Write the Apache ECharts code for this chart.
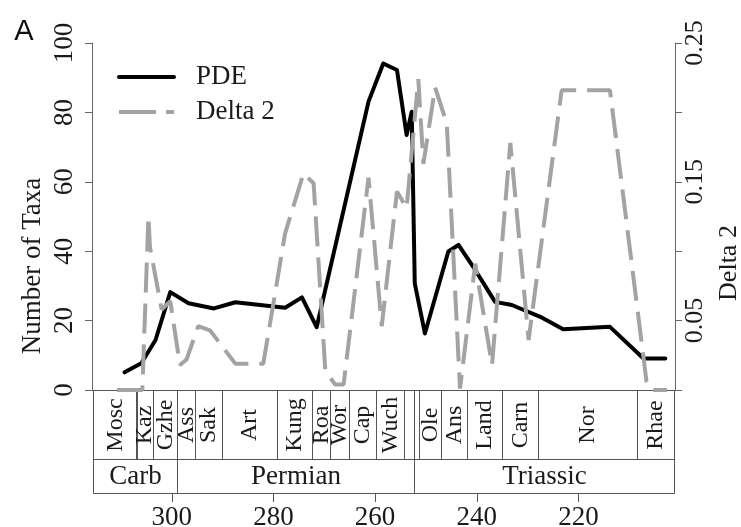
<!DOCTYPE html>
<html>
<head>
<meta charset="utf-8">
<script src="https://cdn.jsdelivr.net/npm/echarts@6.0.0/dist/echarts.min.js"></script>
<style>
  html, body { margin: 0; padding: 0; background: #fff; }
  #chart { width: 741px; height: 527px; }
</style>
</head>
<body>
<div id="chart"></div>
<script>
// PDE curve: age (Ma) and number of taxa
const pdeAge = [309.3, 306.0, 303.2, 300.3, 296.7, 291.7, 287.5, 277.7, 274.4, 271.5,
    261.3, 258.4, 255.7, 253.8, 252.8, 252.2, 250.2, 245.6, 243.6, 240.7,
    236.4, 233.1, 227.5, 223.0, 213.8, 207.2, 202.9];
const pdeTaxa = [5.1, 7.7, 14.4, 28.2, 25.0, 23.5, 25.3, 23.7, 26.7, 18.1,
    83.1, 94.1, 92.2, 73.5, 80.2, 30.7, 16.3, 39.9, 41.8, 35.5,
    25.4, 24.5, 21.1, 17.5, 18.2, 9.1, 9.1];

// Delta 2 curve (right axis)
const deltaAge = [310.8, 306.2, 305.8, 304.6, 304.3, 302.0, 300.3, 298.4, 297.1, 294.8,
    292.5, 287.5, 282.0, 277.7, 274.1, 272.1, 269.8, 267.9, 266.2, 261.3,
    258.7, 255.7, 253.8, 251.5, 250.5, 248.2, 245.9, 243.3, 240.3, 237.0,
    233.4, 229.8, 223.3, 213.8, 206.6, 205.6, 202.6];
const deltaVal = [0, 0, 0, 0.125, 0.103, 0.058, 0.064, 0.018, 0.022, 0.046,
    0.043, 0.019, 0.019, 0.113, 0.156, 0.149, 0.014, 0.004, 0.004, 0.153,
    0.046, 0.143, 0.131, 0.224, 0.163, 0.218, 0.192, 0.001, 0.091, 0.018,
    0.178, 0.036, 0.216, 0.216, 0.006, 0, 0];

// geological time scale boxes
const stageNames = ['Mosc', 'Kaz', 'Gzhe', 'Ass', 'Sak', 'Art', 'Kung', 'Roa', 'Wor', 'Cap',
    'Wuch', '', '', 'Ole', 'Ans', 'Land', 'Carn', 'Nor', 'Rhae'];
const stageBounds = [315.6, 307.0, 303.7, 299.0, 295.4, 290.1, 279.3, 272.4, 268.8, 265.1,
    259.8, 254.3, 252.3, 251.3, 247.0, 241.9, 235.0, 227.9, 208.4, 201.1];
const periodNames = ['Carb', 'Permian', 'Triassic'];
const periodBounds = [315.6, 299.0, 252.3, 201.1];

const xTicks = [300, 280, 260, 240, 220];

const serif = 'Liberation Serif';

function zip(a, b) {
    return a.map((v, i) => [v, b[i]]);
}

function boxes(bounds, y0, y1) {
    let out = [];
    for (let i = 0; i < bounds.length - 1; i++) {
        out.push([bounds[i], bounds[i + 1], y0, y1]);
    }
    return out;
}

function cellRenderer(names, fontSize, rotate) {
    return function (params, api) {
        let a = api.coord([api.value(0), api.value(2)]),
            b = api.coord([api.value(1), api.value(3)]);
        let x = Math.round(Math.min(a[0], b[0])) + 0.5,
            y = Math.round(Math.min(a[1], b[1])) + 0.5,
            w = Math.round(Math.abs(b[0] - a[0])),
            h = Math.round(Math.abs(b[1] - a[1]));
        return {
            type: 'group',
            children: [{
                type: 'rect',
                shape: { x: x, y: y, width: w, height: h },
                style: { fill: 'none', stroke: '#555', lineWidth: 1 }
            }, {
                type: 'text',
                x: x + w / 2,
                y: y + h / 2,
                rotation: rotate ? Math.PI / 2 : 0,
                style: {
                    text: names[params.dataIndex],
                    fontFamily: serif,
                    fontSize: fontSize,
                    fill: '#1a1a1a',
                    align: 'center',
                    verticalAlign: 'middle'
                }
            }]
        };
    };
}

let chart = echarts.init(document.getElementById('chart'), null, { renderer: 'canvas' });

let option = {
    animation: false,
    backgroundColor: '#fff',
    grid: [
        { left: 92, right: 66, top: 43, height: 347, outerBoundsMode: 'none' },
        { left: 92, right: 66, top: 390, height: 103, outerBoundsMode: 'none' }
    ],
    legend: {
        orient: 'vertical',
        left: 112,
        top: 57,
        itemWidth: 55,
        itemHeight: 4,
        itemGap: 5,
        itemStyle: { opacity: 0 },
        lineStyle: { width: 4 },
        textStyle: { fontFamily: serif, fontSize: 27, color: '#1a1a1a', lineHeight: 30, padding: [0, 0, 0, 17] },
        data: [
            { name: 'PDE' },
            { name: 'Delta 2', lineStyle: { width: 4, type: [37, 10] } }
        ]
    },
    xAxis: [{
        type: 'value',
        gridIndex: 0,
        position: 'top',
        min: 201.0,
        max: 315.7,
        inverse: true,
        axisLine: { show: true, lineStyle: { color: '#666', width: 1 } },
        axisTick: { show: false },
        axisLabel: { show: false },
        splitLine: { show: false }
    }, {
        type: 'value',
        gridIndex: 1,
        position: 'bottom',
        min: 201.0,
        max: 315.7,
        inverse: true,
        axisLine: { show: false },
        axisTick: { show: true, customValues: xTicks, length: 9, lineStyle: { color: '#555' } },
        axisLabel: {
            customValues: xTicks, margin: 11,
            fontFamily: serif, fontSize: 27, color: '#1a1a1a'
        },
        splitLine: { show: false }
    }],
    yAxis: [{
        type: 'value',
        gridIndex: 0,
        position: 'left',
        min: 0,
        max: 100,
        interval: 20,
        axisLine: { show: true, lineStyle: { color: '#666', width: 1 } },
        axisTick: { show: true, length: 7, lineStyle: { color: '#666' } },
        axisLabel: { rotate: 90, margin: 14, fontFamily: serif, fontSize: 27, color: '#1a1a1a' },
        splitLine: { show: false }
    }, {
        type: 'value',
        gridIndex: 0,
        position: 'right',
        min: 0,
        max: 0.25,
        interval: 0.05,
        axisLine: { show: true, lineStyle: { color: '#666', width: 1 } },
        axisTick: { show: true, length: 7, lineStyle: { color: '#666' } },
        axisLabel: {
            rotate: 90, margin: 7, fontFamily: serif, fontSize: 26, color: '#1a1a1a',
            formatter: v => (Math.round(v * 100) % 10 === 5 ? v.toFixed(2) : '')
        },
        splitLine: { show: false }
    }, {
        type: 'value',
        gridIndex: 1,
        min: 0,
        max: 3,
        show: false
    }],
    series: [{
        name: 'PDE',
        type: 'line',
        xAxisIndex: 0,
        yAxisIndex: 0,
        data: zip(pdeAge, pdeTaxa),
        symbol: 'none',
        lineStyle: { color: '#000', width: 4, join: 'round', cap: 'round' },
        itemStyle: { color: '#000' },
        z: 3
    }, {
        name: 'Delta 2',
        type: 'line',
        xAxisIndex: 0,
        yAxisIndex: 1,
        data: zip(deltaAge, deltaVal),
        symbol: 'none',
        lineStyle: { color: '#a3a3a3', width: 4, type: [30, 11], cap: 'butt' },
        itemStyle: { color: '#a3a3a3' },
        z: 4
    }, {
        type: 'custom',
        xAxisIndex: 1,
        yAxisIndex: 2,
        renderItem: cellRenderer(stageNames, 24, true),
        encode: { x: [0, 1], y: [2, 3] },
        data: boxes(stageBounds, 1, 3),
        silent: true
    }, {
        type: 'custom',
        xAxisIndex: 1,
        yAxisIndex: 2,
        renderItem: cellRenderer(periodNames, 27, false),
        encode: { x: [0, 1], y: [2, 3] },
        data: boxes(periodBounds, 0, 1),
        silent: true
    }],
    graphic: [{
        type: 'text',
        x: 33,
        y: 266,
        rotation: Math.PI / 2,
        style: { text: 'Number of Taxa', fontFamily: serif, fontSize: 27, fill: '#1a1a1a', align: 'center', verticalAlign: 'middle' }
    }, {
        type: 'text',
        x: 729,
        y: 263,
        rotation: Math.PI / 2,
        style: { text: 'Delta 2', fontFamily: serif, fontSize: 26, fill: '#1a1a1a', align: 'center', verticalAlign: 'middle' }
    }, {
        type: 'text',
        x: 24,
        y: 32,
        style: { text: 'A', fontFamily: 'Liberation Sans', fontSize: 29, fill: '#111', align: 'center', verticalAlign: 'middle' }
    }]
};

chart.setOption(option);
</script>
</body>
</html>
